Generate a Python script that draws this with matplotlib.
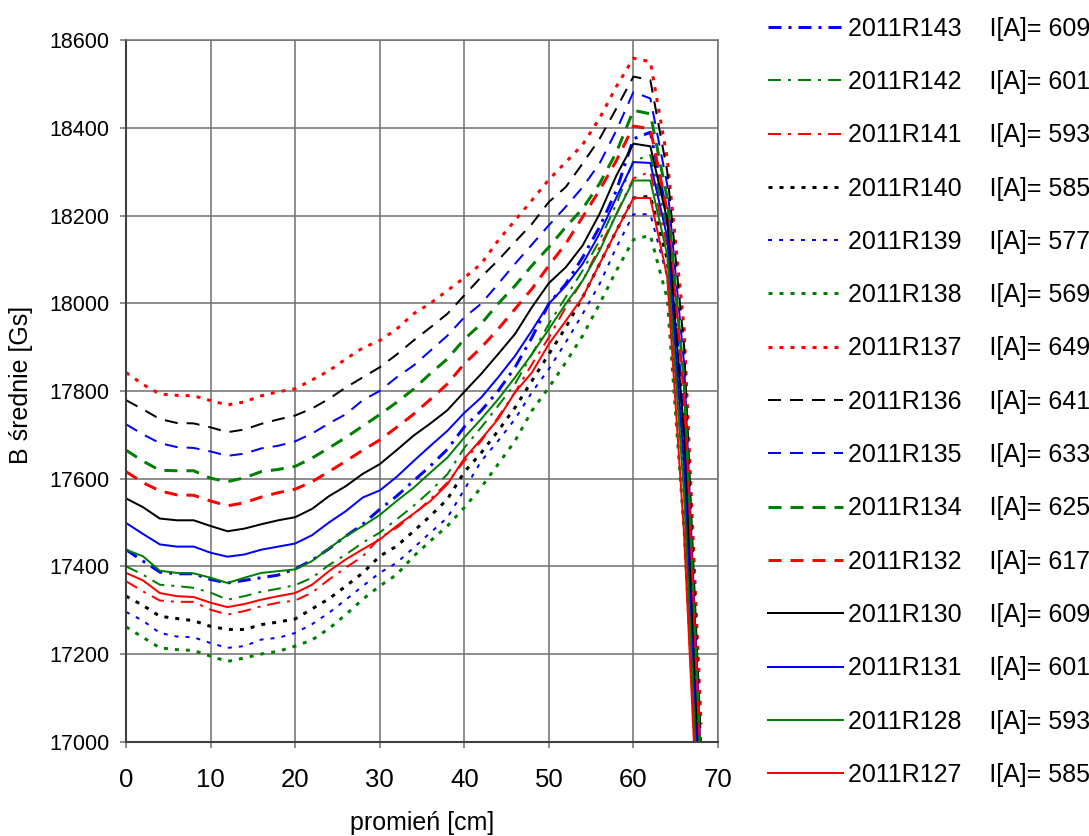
import matplotlib
matplotlib.use('Agg')
import matplotlib.pyplot as plt

plt.rcParams['font.family'] = ['Liberation Sans', 'DejaVu Sans']

# promień [cm] - pomiar co 2 cm
radius_cm = list(range(0, 70, 2))

# B średnie [Gs]
r143 = [17438, 17412, 17387, 17383, 17383, 17370, 17362, 17368, 17374, 17380, 17394, 17414,
        17440, 17469, 17496, 17530, 17560, 17595, 17629, 17667, 17718, 17755, 17800, 17854,
        17922, 17999, 18044, 18105, 18174, 18258, 18375, 18390, 18200, 17720, 16800]
r142 = [17400, 17381, 17358, 17355, 17351, 17340, 17324, 17332, 17342, 17349, 17357, 17374,
        17403, 17427, 17454, 17477, 17507, 17538, 17572, 17610, 17670, 17717, 17766, 17816,
        17884, 17953, 18014, 18075, 18143, 18227, 18325, 18338, 18170, 17680, 16780]
r141 = [17366, 17343, 17322, 17319, 17319, 17301, 17290, 17298, 17309, 17317, 17322, 17340,
        17370, 17397, 17423, 17465, 17488, 17518, 17553, 17591, 17640, 17686, 17740, 17797,
        17861, 17922, 17991, 18052, 18128, 18204, 18285, 18300, 18130, 17640, 16760]
r140 = [17332, 17311, 17286, 17281, 17276, 17263, 17256, 17256, 17267, 17273, 17280, 17303,
        17326, 17355, 17385, 17423, 17446, 17480, 17515, 17553, 17615, 17659, 17709, 17762,
        17823, 17884, 17945, 18014, 18090, 18166, 18240, 18244, 18100, 17650, 16800]
r139 = [17296, 17276, 17248, 17240, 17238, 17225, 17214, 17218, 17233, 17237, 17248, 17268,
        17294, 17324, 17355, 17385, 17408, 17442, 17477, 17511, 17575, 17640, 17686, 17736,
        17797, 17850, 17911, 17976, 18044, 18128, 18203, 18203, 18060, 17600, 16780]
r138 = [17262, 17238, 17214, 17210, 17208, 17195, 17183, 17191, 17200, 17206, 17218, 17232,
        17258, 17290, 17325, 17355, 17381, 17423, 17458, 17492, 17534, 17580, 17633, 17686,
        17755, 17808, 17865, 17926, 17999, 18075, 18145, 18155, 18010, 17480, 16760]
r137 = [17842, 17815, 17793, 17790, 17789, 17778, 17768, 17775, 17789, 17798, 17805, 17825,
        17846, 17873, 17898, 17915, 17941, 17976, 18000, 18029, 18058, 18090, 18143, 18189,
        18235, 18282, 18322, 18362, 18422, 18495, 18559, 18551, 18330, 17940, 17040]
r136 = [17779, 17758, 17736, 17727, 17726, 17717, 17706, 17712, 17725, 17735, 17744, 17760,
        17782, 17808, 17831, 17854, 17883, 17915, 17945, 17976, 18018, 18060, 18098, 18140,
        18181, 18231, 18265, 18319, 18375, 18445, 18517, 18509, 18300, 17900, 16990]
r135 = [17724, 17701, 17681, 17672, 17670, 17662, 17652, 17657, 17669, 17675, 17685, 17703,
        17726, 17747, 17779, 17800, 17831, 17858, 17892, 17926, 17968, 17999, 18044, 18090,
        18134, 18178, 18220, 18265, 18319, 18395, 18482, 18467, 18270, 17860, 16950]
r134 = [17665, 17640, 17619, 17618, 17618, 17601, 17593, 17602, 17616, 17621, 17628, 17647,
        17670, 17694, 17720, 17746, 17774, 17804, 17840, 17873, 17918, 17953, 17999, 18040,
        18086, 18128, 18174, 18216, 18273, 18345, 18440, 18432, 18240, 17820, 16920]
r132 = [17616, 17591, 17572, 17563, 17562, 17549, 17538, 17545, 17558, 17568, 17576, 17593,
        17616, 17640, 17665, 17688, 17717, 17747, 17781, 17816, 17862, 17899, 17941, 17987,
        18033, 18086, 18136, 18197, 18258, 18326, 18404, 18398, 18210, 17790, 16900]
r130 = [17555, 17535, 17509, 17505, 17505, 17492, 17480, 17486, 17496, 17505, 17512, 17531,
        17560, 17583, 17611, 17633, 17665, 17698, 17726, 17756, 17798, 17839, 17884, 17930,
        17991, 18046, 18082, 18132, 18204, 18292, 18364, 18358, 18190, 17700, 16800]
r131 = [17499, 17474, 17450, 17445, 17445, 17431, 17422, 17427, 17438, 17445, 17452, 17471,
        17500, 17526, 17557, 17573, 17604, 17640, 17675, 17709, 17750, 17785, 17831, 17880,
        17938, 17999, 18040, 18090, 18159, 18242, 18322, 18320, 18150, 17630, 16750]
r128 = [17438, 17423, 17390, 17385, 17384, 17374, 17362, 17374, 17385, 17389, 17393, 17412,
        17441, 17469, 17492, 17517, 17549, 17579, 17614, 17648, 17694, 17736, 17781, 17831,
        17884, 17941, 17999, 18052, 18120, 18204, 18280, 18280, 18110, 17560, 16700]
r127 = [17385, 17368, 17339, 17332, 17330, 17317, 17307, 17314, 17324, 17332, 17339, 17358,
        17389, 17416, 17439, 17461, 17492, 17520, 17549, 17587, 17646, 17690, 17736, 17797,
        17842, 17907, 17960, 18014, 18090, 18166, 18240, 18240, 18060, 17470, 16650]

series_names = ['2011R143', '2011R142', '2011R141', '2011R140', '2011R139', '2011R138',
                '2011R137', '2011R136', '2011R135', '2011R134', '2011R132', '2011R130',
                '2011R131', '2011R128', '2011R127']
currents = [609, 601, 593, 585, 577, 569, 649, 641, 633, 625, 617, 609, 601, 593, 585]
series_values = [r143, r142, r141, r140, r139, r138, r137, r136, r135, r134, r132, r130,
                 r131, r128, r127]

# styl: (kolor, grubość w px, wzór przerywania w px albo None)
DASHDOT = [13, 7, 3, 7]
DOT = [4, 7]
DASH = [13, 9]
styles = [
    ('#0000FF', 3, DASHDOT), ('#008000', 2, DASHDOT), ('#FF0000', 2, DASHDOT),
    ('#000000', 3, DOT), ('#0000FF', 2, DOT), ('#008000', 3, DOT), ('#FF0000', 3, DOT),
    ('#000000', 2, DASH), ('#0000FF', 2, DASH), ('#008000', 3, DASH), ('#FF0000', 3, DASH),
    ('#000000', 2, None), ('#0000FF', 2, None), ('#008000', 2, None), ('#FF0000', 2, None),
]

W, H = 1089, 836
fig = plt.figure(figsize=(W / 100, H / 100), dpi=100)
left, right, top, bottom = 126, 718, 40.2, 741.7
ax = fig.add_axes([left / W, 1 - bottom / H, (right - left) / W, (bottom - top) / H])

for name, cur, vals, (col, lw_px, pat) in zip(series_names, currents, series_values, styles):
    lw = lw_px * 0.72
    line, = ax.plot(radius_cm, vals, color=col, lw=lw,
                    label=f'{name}    I[A]= {cur}')
    if pat is not None:
        line.set_dashes([p / lw_px for p in pat])

ax.set_xlim(0, 70)
ax.set_ylim(17000, 18600)
ax.set_xticks(range(0, 71, 10))
ax.set_yticks(range(17000, 18601, 200))
ax.grid(True, color='#707070', lw=1.1)
ax.set_axisbelow(True)

for s in ('left', 'bottom'):
    ax.spines[s].set_color('#404040')
    ax.spines[s].set_linewidth(1.5)
for s in ('top', 'right'):
    ax.spines[s].set_color('#707070')
    ax.spines[s].set_linewidth(1.1)

ax.tick_params(axis='y', direction='out', length=4.3, width=1.1, color='#707070',
               labelsize=15.5, pad=7.5)
ax.tick_params(axis='x', direction='out', length=4.3, width=1.1, color='#707070',
               labelsize=18.5, pad=14.5)

ax.set_xlabel('promień [cm]', fontsize=18, va='center')
ax.xaxis.set_label_coords(0.5, -(823 - bottom) / (bottom - top))
ax.set_ylabel('B średnie [Gs]', fontsize=18, va='center')
ax.yaxis.set_label_coords(-(left - 21) / (right - left), (bottom - 385) / (bottom - top))

fig.legend(loc='upper left', bbox_to_anchor=(768 / W, 1 - 16.7 / H), frameon=False,
           fontsize=18, borderpad=0, borderaxespad=0, handlelength=3.0,
           handletextpad=0.2, labelspacing=1.172)

fig.savefig('out.png', dpi=100)
